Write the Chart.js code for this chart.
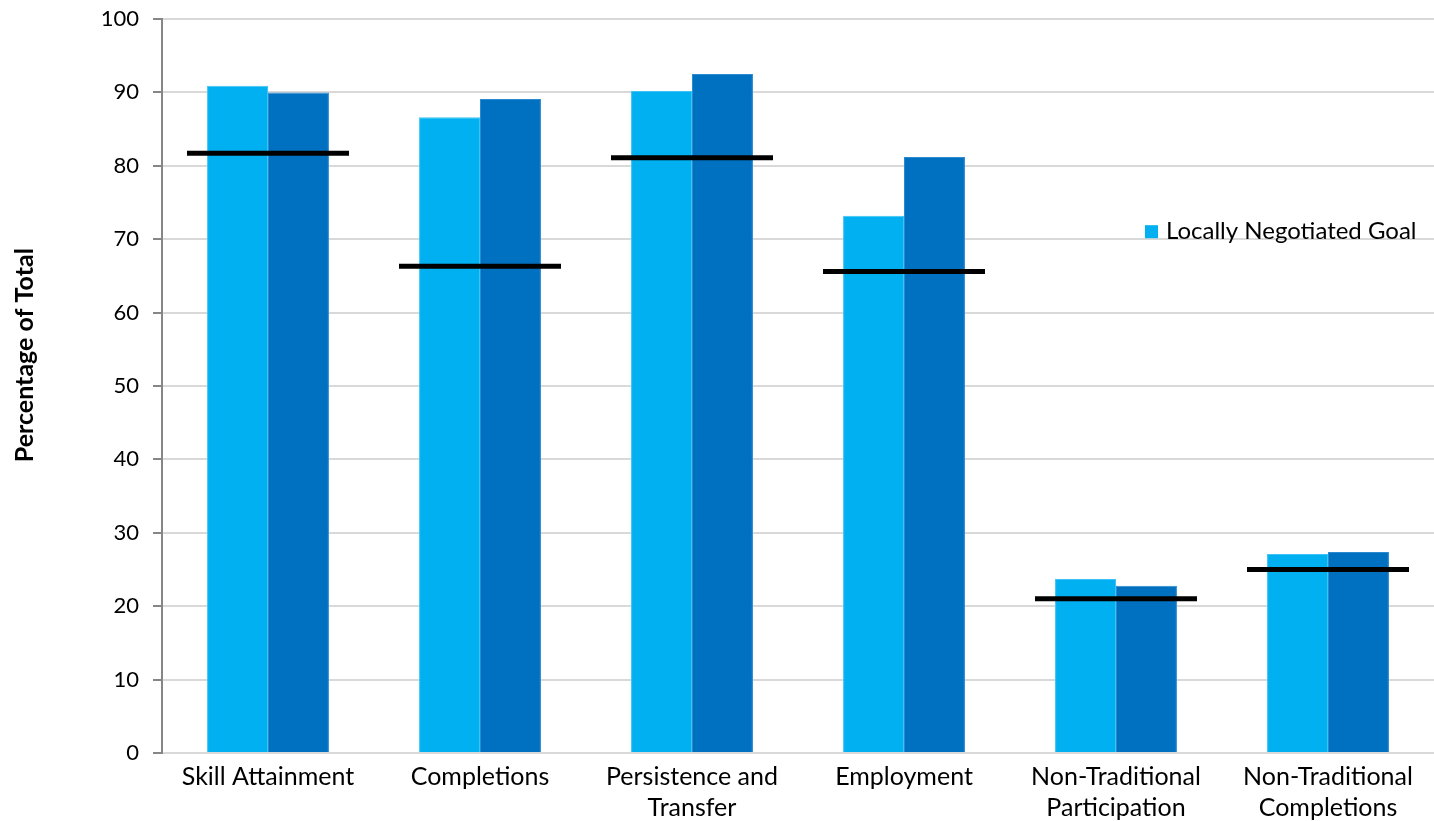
<!DOCTYPE html>
<html>
<head>
<meta charset="utf-8">
<script src="https://cdn.jsdelivr.net/npm/chart.js@4/dist/chart.umd.min.js"></script>
<style>
  html, body { margin: 0; padding: 0; background: #fff; overflow: hidden; }
  #wrap { width: 1434px; height: 821px; position: relative; }
</style>
</head>
<body>
<div id="wrap"><canvas id="grafico"></canvas></div>
<script>
// categorias y valores
const categories = ['Skill Attainment', 'Completions', ['Persistence and', 'Transfer'], 'Employment', ['Non-Traditional', 'Participation'], ['Non-Traditional', 'Completions']];
const seriesLight = [90.9, 86.6, 90.2, 73.2, 23.7, 27.1];
const seriesDark = [90.0, 89.1, 92.5, 81.2, 22.8, 27.4];
const goals = [81.7, 66.3, 81.1, 65.6, 21.0, 25.0];
const yTicks = [0, 10, 20, 30, 40, 50, 60, 70, 80, 90, 100];
const yTitle = 'Percentage of Total';

const FONT = 'Lato, "Open Sans", sans-serif';

// leyenda dentro del area del grafico y titulo del eje Y
const extrasPlugin = {
    id: 'extras',
    afterDraw(chart) {
        const ctx = chart.ctx;
        const y = chart.scales.y.getPixelForValue(70);
        ctx.save();
        ctx.fillStyle = '#00B0F0';
        ctx.fillRect(1145, y - 14, 13, 13);
        ctx.fillStyle = '#000';
        ctx.font = '24px ' + FONT;
        ctx.textBaseline = 'middle';
        ctx.textAlign = 'left';
        ctx.fillText(chart.data.datasets[0].label, 1166, y - 8);

        // titulo vertical
        ctx.translate(25, chart.scales.y.getPixelForValue(54.2));
        ctx.rotate(-Math.PI / 2);
        ctx.textAlign = 'center';
        ctx.font = 'bold 25px ' + FONT;
        ctx.fillText(yTitle, 0, 0);
        ctx.restore();
    }
};

new Chart(document.getElementById('grafico'), {
    type: 'bar',
    data: {
        labels: categories,
        datasets: [
            {
                label: 'Locally Negotiated Goal',
                data: seriesLight,
                backgroundColor: '#00B0F0',
                borderColor: '#3DC3F5',
                borderWidth: 1,
                categoryPercentage: 0.575,
                barPercentage: 1,
                order: 2
            },
            {
                label: 'Actual',
                data: seriesDark,
                backgroundColor: '#0070C0',
                borderColor: '#2C8AD0',
                borderWidth: 1,
                categoryPercentage: 0.575,
                barPercentage: 1,
                order: 2
            },
            {
                type: 'line',
                label: 'Goal',
                data: goals,
                showLine: false,
                pointStyle: 'line',
                pointRadius: 81,
                pointHoverRadius: 81,
                pointBorderWidth: 5,
                pointBorderColor: '#000',
                borderColor: '#000',
                clip: false,
                order: 1
            }
        ]
    },
    options: {
        responsive: true,
        maintainAspectRatio: false,
        animation: false,
        layout: { autoPadding: false, padding: { top: 19, right: 0, left: 0, bottom: 0 } },
        plugins: {
            legend: { display: false },
            tooltip: { enabled: false }
        },
        scales: {
            x: {
                offset: true,
                grid: { display: false, drawTicks: false },
                border: { color: '#D9D9D9', width: 2 },
                ticks: { color: '#000', font: { family: FONT, size: 25, lineHeight: 1.25 }, padding: 8, maxRotation: 0, autoSkip: false },
                afterFit: (scale) => {
                    scale.height = 68;
                    scale.paddingLeft = 0;
                    scale.paddingRight = 0;
                }
            },
            y: {
                min: 0,
                max: 100,
                afterBuildTicks: (scale) => { scale.ticks = yTicks.map(v => ({ value: v })); },
                grid: { color: '#D9D9D9', lineWidth: 2, tickLength: 9, tickColor: '#868686' },
                border: { color: '#868686', width: 2 },
                ticks: { color: '#000', font: { family: FONT, size: 22 }, padding: 14 },
                afterFit: (scale) => {
                    scale.width = 162;
                    scale.paddingTop = 0;
                    scale.paddingBottom = 0;
                }
            }
        }
    },
    plugins: [extrasPlugin]
});
</script>
</body>
</html>
